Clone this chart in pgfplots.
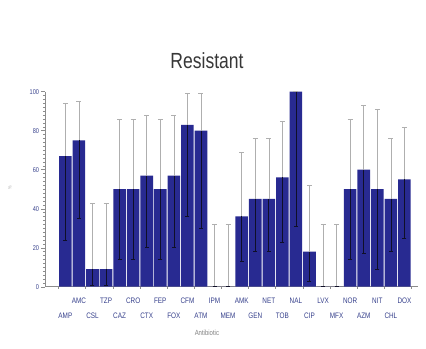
\documentclass[border=0pt]{standalone}
\usepackage{pgfplots}
\pgfplotsset{compat=1.18}
\usepackage{pgfplotstable}
\usepackage{fontspec}
\setmainfont{Liberation Sans}
\newfontfamily\narrow[FakeStretch=0.8]{Liberation Sans}
\definecolor{barnavy}{RGB}{40,42,145}
\definecolor{errgrey}{RGB}{175,175,175}
\definecolor{lowblk}{RGB}{15,15,40}
\definecolor{axgrey}{RGB}{140,140,140}
\definecolor{lblblue}{RGB}{55,65,140}
\definecolor{titlegrey}{RGB}{55,55,55}
\pgfplotstableread{
x val up down
0 67 27 43
1 75 20 40
2 9 34 8.5
3 9 34 8.5
4 50 36 36
5 50 36 36
6 57 31 37
7 50 36 36
8 57 31 37
9 83 16 47
10 80 19 50
11 0 32 0
12 0 32 0
13 36 33 23
14 45 31 27
15 45 31 27
16 56 29 33
17 100 0 69
18 18 34 15
19 0 32 0
20 0 32 0
21 50 36 36
22 60 33 43
23 50 41 41
24 45 31 27
25 55 27 30
}\data
\begin{document}
\begin{tikzpicture}
\useasboundingbox (0,0) rectangle (426bp,349bp);
\node[font=\narrow\fontsize{22}{22}\selectfont, text=titlegrey, anchor=base] at (207bp,280bp) {Resistant};
\begin{axis}[
  at={(45bp,62.3bp)}, anchor=south west,
  scale only axis, width=373bp, height=195bp,
  xmin=-1.5, xmax=26, ymin=0, ymax=100,
  axis x line*=bottom, axis y line*=left,
  axis line style={draw=axgrey, line width=0.5pt},
  tick align=outside,
  major tick length=3.5bp, minor tick length=2bp,
  tick style={draw=axgrey, line width=0.4pt},
  ytick={0,20,...,100}, minor y tick num=9,
  /pgf/number format/assume math mode=true,
  yticklabel style={font=\narrow\fontsize{7}{8}\selectfont, text=lblblue, xshift=1bp},
  xtick={0,2,...,24},
  xticklabels={AMP,CSL,CAZ,CTX,FOX,ATM,MEM,GEN,TOB,CIP,MFX,AZM,CHL},
  major x tick style={draw=none},
  minor xtick={-0.5,1.5,...,25.5},
  minor x tick style={draw=axgrey},
  xticklabel style={font=\narrow\fontsize{8}{9}\selectfont, text=lblblue, anchor=center, yshift=-26bp},
  extra x ticks={1,3,...,25},
  extra x tick labels={AMC,TZP,CRO,FEP,CFM,IPM,AMK,NET,NAL,LVX,NOR,NIT,DOX},
  extra x tick style={tick style={draw=none}, xticklabel style={yshift=15bp}},
  xlabel={Antibiotic},
  xlabel style={at={(axis description cs:0.434,-0.237)}, anchor=center, font=\narrow\fontsize{7.5}{8}\selectfont, text=gray},
  ylabel={\%},
  ylabel style={at={(axis description cs:-0.094,0.51)}, anchor=center, rotate=0, font=\narrow\fontsize{5}{6}\selectfont, text=gray!60},
  clip=false,
]
\addplot[ybar, bar width=12.6bp, bar shift=0pt, fill=barnavy, draw=none] table[x=x,y=val]{\data};
\addplot[draw=none, mark=none, forget plot,
  error bars/.cd, y dir=plus, y explicit, error mark=-,
  error bar style={draw=errgrey, line width=0.6pt},
  error mark options={rotate=90, draw=errgrey, mark size=2.5bp, line width=0.6pt}]
  table[x=x, y=val, y error plus=up]{\data};
\addplot[draw=none, mark=none, forget plot,
  error bars/.cd, y dir=minus, y explicit, error mark=-,
  error bar style={draw=lowblk, line width=0.7pt},
  error mark options={rotate=90, draw=lowblk, mark size=2bp, line width=0.7pt}]
  table[x=x, y=val, y error minus=down]{\data};
\end{axis}
\end{tikzpicture}
\end{document}
